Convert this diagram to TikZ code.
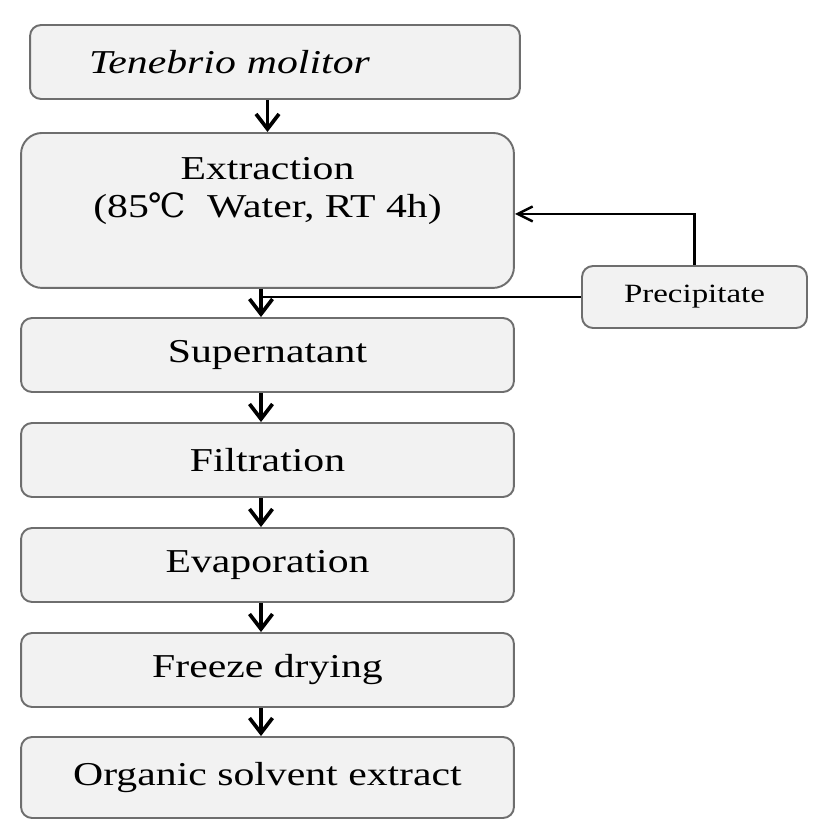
\documentclass[tikz,border=0pt]{standalone}
\usepackage{fontspec}
\setmainfont{Liberation Serif}[FakeStretch=1.25]
\newfontfamily\degfont{DejaVu Serif}
\usepackage{tikz}
\usetikzlibrary{arrows.meta,calc}
\definecolor{FlowFill}{HTML}{F2F2F2}
\definecolor{FlowEdge}{HTML}{6E6E6E}
\newcommand{\degC}{{\degfont ℃}}

\begin{document}
\begin{tikzpicture}[x=0.02cm,y=-0.02cm,
 stepbox/.style={draw=FlowEdge,line width=1.1pt,fill=FlowFill,rounded corners=0.22cm,minimum width=9.86cm,minimum height=1.48cm,inner sep=0pt,font=\fontsize{19}{22}\selectfont},
 sidebox/.style={stepbox,minimum width=4.5cm,minimum height=1.24cm,font=\fontsize{15}{17}\selectfont},
 flow/.style={-{Straight Barb[length=3mm,width=4.6mm]},line width=2.1pt},
 back/.style={-{Straight Barb[length=3mm,width=3mm]},line width=1.4pt}]
\useasboundingbox (0,0) rectangle (827,838);
\node[stepbox,minimum width=9.8cm,text width=7.44cm,inner xsep=1.18cm,align=left,font=\fontsize{19}{22}\selectfont\itshape] (tm) at (275,62) {Tenebrio molitor};
\node[stepbox,anchor=north,rounded corners=0.42cm,minimum height=3.1cm,align=center,inner ysep=0.48cm,text depth=0.92cm] (ext) at (267.5,132) {Extraction\\(85\degC\ \ Water, RT 4h)};
\node[stepbox] (sup) at (267.5,355) {Supernatant};
\node[stepbox] (fil) at (267.5,460) {Filtration};
\node[stepbox] (eva) at (267.5,565) {Evaporation};
\node[stepbox] (frz) at (267.5,670) {Freeze drying};
\node[stepbox,minimum height=1.62cm] (org) at (267.5,777.5) {Organic solvent extract};
\node[sidebox] (pre) at (694.5,297) {Precipitate};
\coordinate (spine) at ($(ext.south)+(-6.5,0)$);
\draw[flow] (ext.north |- tm.south) -- (ext.north);
\draw[flow] (spine) -- (spine |- sup.north);
\draw[line width=1.7pt] (pre.west) -- (pre.west -| spine);
\draw[back] (pre.north) |- ($(ext.east)+(0,3.5)$);
\foreach \a/\b in {sup/fil,fil/eva,eva/frz,frz/org}
  \draw[flow] ($(\a.south)+(-6.5,0)$) -- ($(\b.north)+(-6.5,0)$);
\end{tikzpicture}
\end{document}
